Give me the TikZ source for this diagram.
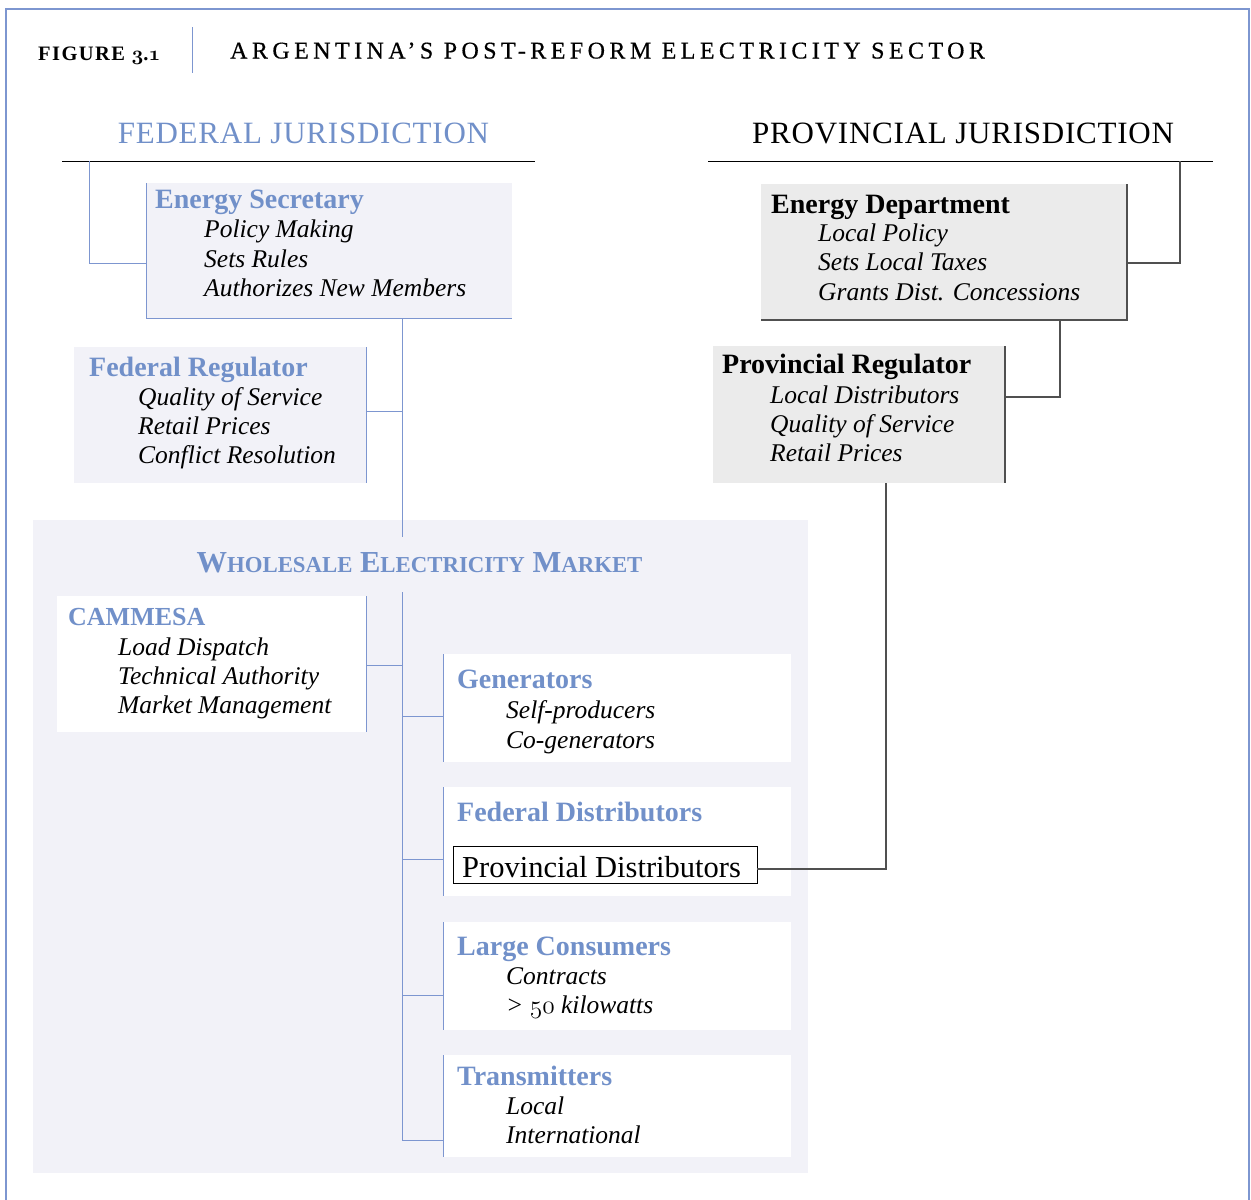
\documentclass[tikz,border=0pt]{standalone}
\usepackage{fix-cm}
\usepackage{fontspec}
\setmainfont{Liberation Serif}
\newfontfamily\titlefont{Liberation Serif}[LetterSpace=18.5,FakeBold=0.5]
\newfontfamily\figfont{Liberation Serif}[LetterSpace=7]
\newfontfamily\jurfont{Liberation Serif}[LetterSpace=2.5]
\newcommand\osn[1]{{\usefont{OML}{cmm}{m}{it}#1}}
\newcommand\osnb[1]{{\usefont{OML}{cmm}{b}{it}#1}}
\definecolor{fedblue}{HTML}{7190C9}
\definecolor{lineblue}{HTML}{7D96D0}
\definecolor{lav}{HTML}{F2F2F8}
\definecolor{gry}{HTML}{EBEBEB}
\definecolor{dgry}{HTML}{505050}
\tikzset{
 txt/.style={inner sep=0pt, anchor=base west},
 bhead/.style={txt, font=\fontsize{28}{30}\selectfont\bfseries, text=fedblue},
 khead/.style={txt, font=\fontsize{28}{30}\selectfont\bfseries, text=black},
 itm/.style={txt, font=\fontsize{25.5}{28}\selectfont\itshape},
 box/.style={rectangle, inner sep=0pt, outer sep=0pt, anchor=north west, draw=none},
 lavbox/.style={box, fill=lav},
 whbox/.style={box, fill=white},
 grybox/.style={box, fill=gry},
 bl/.style={draw=lineblue, line width=0.9pt},
 gl/.style={draw=dgry, line width=1.1pt},
 kl/.style={draw=black, line width=1pt},
}
\begin{document}
\begin{tikzpicture}[x=1pt,y=-1pt]
\useasboundingbox (0,0) rectangle (1251,1200);
% outer frame
\coordinate (fa) at (6,1200); \coordinate (fb) at (6,9);
\coordinate (fc) at (1249,9); \coordinate (fd0) at (1249,1200);
\draw[draw=lineblue, line width=2pt] (fa) -- (fb) -- (fc) -- (fd0);
% title
\node[txt, font=\figfont\bfseries\fontsize{20.5}{20.5}\selectfont] (fig) at (38,60) {FIGURE \osnb{3}.\osnb{1}};
\coordinate (dv1) at (192,27); \coordinate (dv2) at (192,73);
\draw[bl] (dv1) -- (dv2);
\node[txt, font=\titlefont\fontsize{24}{24}\selectfont] (ttl) at (230,58.5) {ARGENTINA’S POST-REFORM ELECTRICITY SECTOR};
% jurisdictions
\node[inner sep=0pt, anchor=base, font=\jurfont\fontsize{31}{31}\selectfont, text=fedblue] (fj) at (303.5,143) {FEDERAL JURISDICTION};
\node[inner sep=0pt, anchor=base west, font=\jurfont\fontsize{31}{31}\selectfont] (pj) at (752,143) {PROVINCIAL JURISDICTION};
\coordinate (fr1) at (62,161); \coordinate (fr2) at (535,161);
\coordinate (pr1) at (708,161); \coordinate (pr2) at (1213,161);
\draw[kl] (fr1) -- (fr2);
\draw[kl] (pr1) -- (pr2);
% boxes
\node[lavbox, minimum width=775pt, minimum height=653pt] (ws) at (33,520) {};
\node[lavbox, minimum width=366pt, minimum height=135pt] (es) at (146,183) {};
\node[lavbox, minimum width=292pt, minimum height=136pt] (fr) at (74,347) {};
\node[whbox, minimum width=309pt, minimum height=136pt] (cam) at (57,596) {};
\node[whbox, minimum width=348pt, minimum height=108pt] (gen) at (443,654) {};
\node[whbox, minimum width=348pt, minimum height=109pt] (fdb) at (443,787) {};
\node[whbox, minimum width=348pt, minimum height=108pt] (lc) at (443,922) {};
\node[whbox, minimum width=348pt, minimum height=102pt] (tr) at (443,1055) {};
\node[grybox, minimum width=366pt, minimum height=136pt] (ed) at (761,184) {};
\node[grybox, minimum width=292pt, minimum height=137pt] (pr) at (713,346) {};
\node[box, fill=white, draw=black, line width=0.8pt, minimum width=304pt, minimum height=37pt] (pd) at (453,846) {};
% box edges
\draw[bl] (es.north west) -- (es.south west) -- (es.south east);
\draw[bl] (fr.north east) -- (fr.south east);
\draw[bl] (cam.north east) -- (cam.south east);
\draw[bl] (gen.north west) -- (gen.south west);
\draw[bl] (fdb.north west) -- (fdb.south west);
\draw[bl] (lc.north west) -- (lc.south west);
\draw[bl] (tr.north west) -- (tr.south west);
\draw[gl] (ed.north east) -- (ed.south east) -- (ed.south west);
\draw[gl] (pr.north east) -- (pr.south east);
% federal connectors
\coordinate (tx) at (402,0);
\coordinate (fedtap) at (89,161);
\draw[bl] (fedtap) |- (es.west |- 0,263);
\draw[bl] (es.south -| tx) -- (tx |- 0,537);
\draw[bl] (fr.east |- 0,411) -- (tx |- 0,411);
\draw[bl] (tx |- 0,592) -- (tx |- 0,1140);
\draw[bl] (cam.east |- 0,665) -- (tx |- 0,665);
\draw[bl] (tx |- 0,716) -- (gen.west |- 0,716);
\draw[bl] (tx |- 0,859) -- (fdb.west |- 0,859);
\draw[bl] (tx |- 0,995) -- (lc.west |- 0,995);
\draw[bl] (tx |- 0,1140) -- (tr.west |- 0,1140);
% provincial connectors
\coordinate (prvtap) at (1180,161);
\draw[gl] (prvtap) |- (ed.east |- 0,263);
\draw[gl] (ed.south -| 1060,0) |- (pr.east |- 0,397);
\draw[gl] (pr.south -| 886,0) |- (pd.east |- 0,869);
% texts federal
\node[bhead] (esh) at (155,208) {Energy Secretary};
\node[itm] (es1) at (204,237.5) {Policy Making};
\node[itm] (es2) at (204,267) {Sets Rules};
\node[itm] (es3) at (204,296.5) {Authorizes New Members};
\node[bhead] (frh) at (89,376) {Federal Regulator};
\node[itm] (fr1t) at (138,405) {Quality of Service};
\node[itm] (fr2t) at (138,434.5) {Retail Prices};
\node[itm] (fr3t) at (138,463.5) {Conflict Resolution};
% provincial texts
\node[khead] (edh) at (771,213) {Energy Department};
\node[itm] (ed1) at (818,241) {Local Policy};
\node[itm] (ed2) at (818,270.5) {Sets Local Taxes};
\node[itm] (ed3) at (818,300) {Grants Dist. Concessions};
\node[khead] (prh) at (722,373) {Provincial Regulator};
\node[itm] (pr1t) at (770,403) {Local Distributors};
\node[itm] (pr2t) at (770,432) {Quality of Service};
\node[itm] (pr3t) at (770,461.5) {Retail Prices};
% wholesale
\node[inner sep=0pt, anchor=base, text=fedblue, font=\bfseries\fontsize{30.5}{30.5}\selectfont] (wst) at (419.5,572)
 {W{\fontsize{22.8}{22.8}\selectfont HOLESALE} E{\fontsize{22.8}{22.8}\selectfont LECTRICITY} M{\fontsize{22.8}{22.8}\selectfont ARKET}};
\node[bhead, font=\fontsize{26}{28}\selectfont\bfseries] (camh) at (68,625) {CAMMESA};
\node[itm] (cam1) at (118,655) {Load Dispatch};
\node[itm] (cam2) at (118,684.5) {Technical Authority};
\node[itm] (cam3) at (118,713.5) {Market Management};
\node[bhead] (genh) at (457,688) {Generators};
\node[itm] (gen1) at (506,718) {Self-producers};
\node[itm] (gen2) at (506,748) {Co-generators};
\node[bhead] (fdh) at (457,821) {Federal Distributors};
\node[txt, font=\fontsize{30.5}{32}\selectfont] (pdt) at (462,877) {Provincial Distributors};
\node[bhead] (lch) at (457,955) {Large Consumers};
\node[itm] (lc1) at (506,984) {Contracts};
\node[itm] (lc2) at (506,1013.5) {> \osn{50} kilowatts};
\node[bhead] (trh) at (457,1085) {Transmitters};
\node[itm] (tr1) at (506,1114.5) {Local};
\node[itm] (tr2) at (506,1143.5) {International};
\end{tikzpicture}
\end{document}
